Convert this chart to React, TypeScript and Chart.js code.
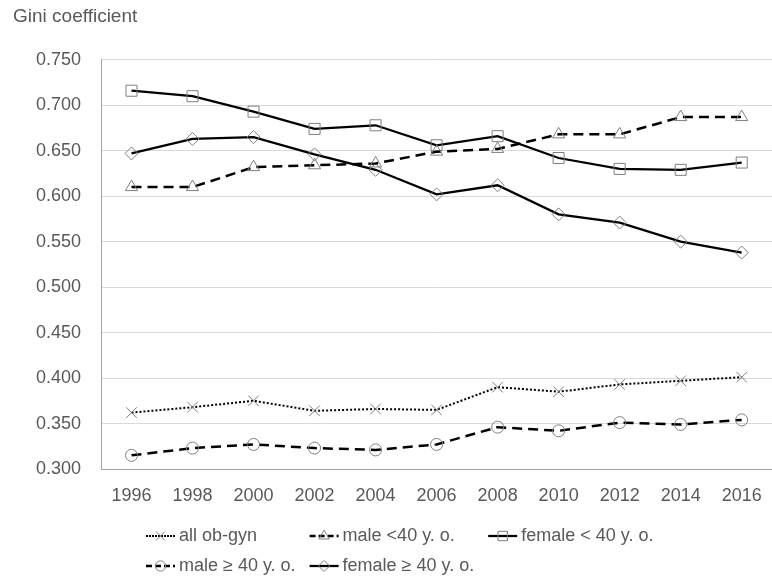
import React, { useEffect, useRef } from 'react';
import { Chart, registerables } from 'chart.js';
import { drawPoint } from 'chart.js/helpers';

Chart.register(...registerables);

const years = ['1996', '1998', '2000', '2002', '2004', '2006', '2008', '2010', '2012', '2014', '2016'];

const allObGyn = [0.362, 0.368, 0.375, 0.364, 0.366, 0.365, 0.390, 0.385, 0.393, 0.397, 0.401];
const maleUnder40 = [0.610, 0.610, 0.632, 0.634, 0.636, 0.649, 0.652, 0.668, 0.668, 0.687, 0.687];
const femaleUnder40 = [0.716, 0.710, 0.693, 0.674, 0.678, 0.656, 0.666, 0.642, 0.630, 0.629, 0.637];
const maleOver40 = [0.315, 0.323, 0.327, 0.323, 0.321, 0.327, 0.346, 0.342, 0.351, 0.349, 0.354];
const femaleOver40 = [0.647, 0.663, 0.665, 0.646, 0.629, 0.602, 0.612, 0.580, 0.571, 0.550, 0.538];

const seriesLabels = ['all ob-gyn', 'male <40 y. o.', 'female < 40 y. o.', 'male ≥ 40 y. o.', 'female ≥ 40 y. o.'];

const yMin = 0.3;
const yMax = 0.75;
const yStep = 0.05;
const yTitle = 'Gini coefficient';

const FONT = '"Liberation Sans", Arial, sans-serif';
const TEXT = '#595959';
const MARKER = '#7f7f7f';
const LINE = '#000000';

const excelLegend = {
  id: 'excelLegend',
  afterDraw(chart: any, _args: any, opts: any) {
    const { ctx } = chart;
    const ds = chart.data.datasets;
    const cols = opts.columns;
    ctx.save();
    ctx.font = `${opts.fontSize}px ${FONT}`;
    const widths: number[] = [];
    ds.forEach((d: any, i: number) => {
      const c = i % cols;
      widths[c] = Math.max(widths[c] || 0, ctx.measureText(d.label).width);
    });
    ds.forEach((d: any, i: number) => {
      const c = i % cols;
      const r = Math.floor(i / cols);
      let x = opts.left;
      for (let k = 0; k < c; k++) x += opts.iconWidth + opts.textGap + widths[k] + opts.colGap;
      const y = chart.chartArea.bottom + opts.top + r * opts.rowHeight;
      ctx.strokeStyle = d.borderColor;
      ctx.lineWidth = d.borderWidth;
      ctx.setLineDash(d.borderDash && d.borderDash.length ? [Math.min(d.borderDash[0], 6), d.borderDash[1] / 2] : []);
      ctx.beginPath();
      ctx.moveTo(x, y);
      ctx.lineTo(x + opts.iconWidth, y);
      ctx.stroke();
      ctx.setLineDash([]);
      ctx.strokeStyle = d.pointBorderColor;
      ctx.fillStyle = 'rgba(0,0,0,0)';
      ctx.lineWidth = d.pointBorderWidth;
      drawPoint(ctx, { pointStyle: d.pointStyle, radius: d.pointRadius * 0.85, borderWidth: d.pointBorderWidth, rotation: 0 } as any, x + opts.iconWidth / 2, y);
      ctx.fillStyle = TEXT;
      ctx.textBaseline = 'middle';
      ctx.textAlign = 'left';
      ctx.fillText(d.label, x + opts.iconWidth + opts.textGap, y);
    });
    ctx.restore();
  },
};

function series(label: string, data: number[], dash: number[], width: number, style: string, radius: number) {
  return {
    label,
    data,
    borderColor: LINE,
    borderWidth: width,
    borderDash: dash,
    pointStyle: style,
    pointRadius: radius,
    pointHoverRadius: radius,
    pointBorderColor: MARKER,
    pointBackgroundColor: 'rgba(0,0,0,0)',
    pointBorderWidth: 1,
    tension: 0,
    fill: false,
  };
}

export default function App() {
  const ref = useRef<HTMLCanvasElement>(null);
  useEffect(() => {
    if (!ref.current) return;
    const chart = new Chart(ref.current, {
      type: 'line',
      data: {
        labels: years,
        datasets: [
          series(seriesLabels[0], allObGyn, [2, 2], 2, 'crossRot', 7.5),
          series(seriesLabels[1], maleUnder40, [10, 6], 2.5, 'triangle', 7),
          series(seriesLabels[2], femaleUnder40, [], 2.25, 'rect', 7.8),
          series(seriesLabels[3], maleOver40, [10, 6], 2.5, 'circle', 6),
          series(seriesLabels[4], femaleOver40, [], 2.25, 'rectRot', 6.5),
        ] as any,
      },
      options: {
        responsive: true,
        maintainAspectRatio: false,
        animation: false,
        layout: { padding: { left: 13, right: 0, top: 0, bottom: 0 } },
        plugins: {
          legend: { display: false },
          tooltip: { enabled: false },
          title: {
            display: true,
            text: yTitle,
            align: 'start',
            color: TEXT,
            font: { family: FONT, size: 19, weight: 'normal' },
            padding: { top: 5, bottom: 32 },
          },
          excelLegend: {
            columns: 3,
            left: 146,
            top: 67,
            rowHeight: 30,
            iconWidth: 29,
            textGap: 4,
            colGap: 14,
            fontSize: 18,
          },
        } as any,
        scales: {
          x: {
            offset: true,
            grid: { color: 'rgba(0,0,0,0)', drawTicks: false },
            border: { display: true, color: '#a6a6a6', width: 1 },
            ticks: { color: TEXT, font: { family: FONT, size: 18 }, padding: 16, maxRotation: 0, autoSkip: false },
            afterFit: (s: any) => { s.height = 108; },
          },
          y: {
            min: yMin,
            max: yMax,
            grid: { color: '#d9d9d9', lineWidth: 1, drawTicks: false },
            border: { display: true, color: '#a6a6a6', width: 1 },
            ticks: {
              stepSize: yStep,
              color: TEXT,
              font: { family: FONT, size: 18 },
              padding: 20,
              callback: (v: any) => Number(v).toFixed(3),
            },
            afterFit: (s: any) => { s.width = 88; },
          },
        },
      },
      plugins: [excelLegend as any],
    });
    return () => chart.destroy();
  }, []);
  return (
    <div style={{ position: 'fixed', left: 0, top: 0, width: 772, height: 577, overflow: 'hidden', background: '#fff' }}>
      <div style={{ position: 'relative', width: 781, height: 577 }}>
        <canvas ref={ref} />
      </div>
    </div>
  );
}
